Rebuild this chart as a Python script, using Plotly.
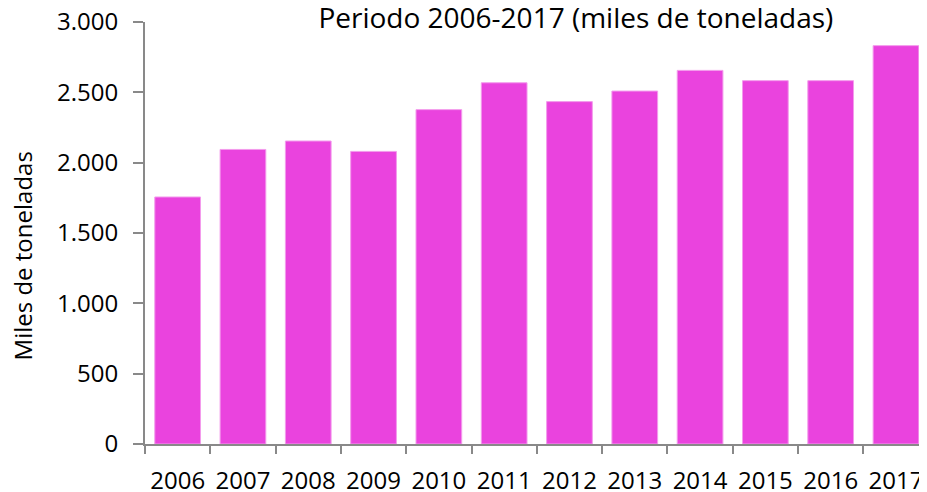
import plotly.graph_objects as go

anios = ["2006", "2007", "2008", "2009", "2010", "2011",
         "2012", "2013", "2014", "2015", "2016", "2017"]
toneladas = [1756, 2094, 2154, 2080, 2377, 2568,
             2434, 2509, 2656, 2583, 2583, 2832]
ticks_y = [0, 500, 1000, 1500, 2000, 2500, 3000]

fig = go.Figure(go.Bar(
    x=anios, y=toneladas,
    marker=dict(color="#EA43DE", line=dict(color="#F39BEC", width=1)),
))

# la pagina html deja 8px de margen, se descuenta aqui
fig.update_layout(
    width=919, height=484,
    margin=dict(l=137, r=0, t=14, b=48),
    plot_bgcolor="white", paper_bgcolor="white",
    font=dict(family="Open Sans", size=24, color="black"),
    separators=",.",
    bargap=0.3,
    showlegend=False,
    title=dict(text="Periodo 2006-2017 (miles de toneladas)",
               font=dict(size=28), xref="paper", x=0.551, xanchor="center",
               yref="container", y=1.0, yanchor="top", pad=dict(t=0)),
)

fig.add_annotation(text="Miles de toneladas", textangle=-90, showarrow=False,
                   xref="paper", yref="paper", x=-0.157, y=0.445,
                   xanchor="center", yanchor="middle", font=dict(size=24))

fig.update_xaxes(
    type="category", range=[-0.5, 11.475], automargin=False,
    showline=True, linecolor="#898989", linewidth=2,
    ticks="outside", tickson="boundaries", ticklen=8, tickwidth=2, tickcolor="#898989",
    showgrid=False, ticklabelstandoff=14, ticklabeloverflow="allow",
)
fig.update_yaxes(
    range=[0, 3000], tickvals=ticks_y, tickformat=",d", separatethousands=True,
    automargin=False, ticklabeloverflow="allow",
    showline=True, linecolor="#898989", linewidth=2,
    ticks="outside", ticklen=10, tickwidth=2, tickcolor="#898989",
    showgrid=False, zeroline=False, ticklabelstandoff=10,
)

fig.write_html("out.html")
